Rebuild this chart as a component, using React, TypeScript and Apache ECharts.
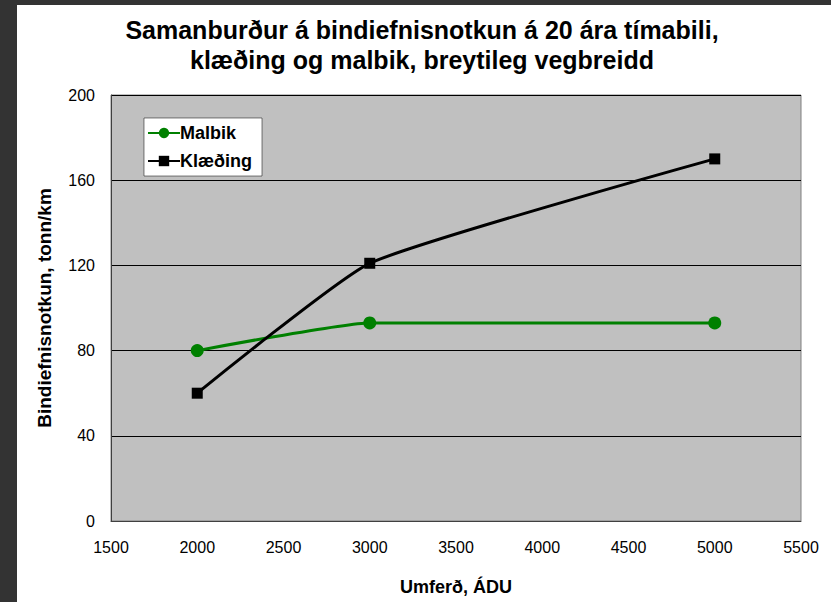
import React, { useEffect, useRef } from "react";
import * as echarts from "echarts";

const titleLines = ["Samanburður á bindiefnisnotkun á 20 ára tímabili,", "klæðing og malbik, breytileg vegbreidd"];
const xAxisName = "Umferð, ÁDU";
const yAxisName = "Bindiefnisnotkun, tonn/km";
const umferd = [2000, 3000, 5000];
const malbik = [80, 93, 93];
const klaeding = [60, 121, 170];
const seriesNames = ["Malbik", "Klæðing"];

export default function App() {
  const ref = useRef<HTMLDivElement>(null);
  useEffect(() => {
    if (!ref.current) return;
    const chart = echarts.init(ref.current, null, { renderer: "svg" });
    const font = "Arial, 'Liberation Sans', sans-serif";
    chart.setOption({
      animation: false,
      backgroundColor: "#ffffff",
      textStyle: { fontFamily: font },
      title: {
        text: titleLines.join("\n"),
        left: 417,
        textAlign: "center",
        top: 10,
        textStyle: { fontSize: 25, fontWeight: "bold", color: "#000", lineHeight: 30, fontFamily: font },
      },
      legend: {
        left: 144,
        top: 118,
        orient: "vertical",
        itemGap: 10,
        itemWidth: 32,
        itemHeight: 13,
        backgroundColor: "#ffffff",
        borderColor: "#000",
        borderWidth: 0.5,
        padding: [6, 10, 6, 3],
        textStyle: { fontSize: 18, fontWeight: "bold", color: "#000", fontFamily: font, padding: [0, 0, 0, -5] },
        data: seriesNames,
      },
      grid: { left: 111, right: 30, top: 95, bottom: 81, containLabel: false, show: true, backgroundColor: "#c0c0c0", borderColor: "#808080", borderWidth: 1 },
      xAxis: {
        type: "value",
        min: 1500,
        max: 5500,
        interval: 500,
        name: xAxisName,
        nameLocation: "middle",
        nameGap: 57,
        nameTextStyle: { fontSize: 18, fontWeight: "bold", color: "#000", fontFamily: font },
        axisLine: { show: true, lineStyle: { color: "#404040", width: 1 } },
        axisTick: { show: false },
        axisLabel: { fontSize: 16, color: "#000", margin: 18, fontFamily: font, formatter: (v: number) => String(v) },
        splitLine: { show: false },
      },
      yAxis: {
        type: "value",
        min: 0,
        max: 200,
        interval: 40,
        name: yAxisName,
        nameLocation: "middle",
        nameGap: 57,
        nameTextStyle: { fontSize: 19, fontWeight: "bold", color: "#000", fontFamily: font },
        axisLine: { show: true, lineStyle: { color: "#404040", width: 1 } },
        axisTick: { show: false },
        axisLabel: { fontSize: 16, color: "#000", margin: 16, fontFamily: font },
        splitLine: { show: true, lineStyle: { color: "#000", width: 1 } },
      },
      series: [
        {
          name: seriesNames[0],
          type: "line",
          data: umferd.map((x, i) => [x, malbik[i]]),
          smooth: 0.15,
          smoothMonotone: "x",
          symbol: "circle",
          symbolSize: 13,
          lineStyle: { color: "#008000", width: 3 },
          itemStyle: { color: "#008000" },
        },
        {
          name: seriesNames[1],
          type: "line",
          data: umferd.map((x, i) => [x, klaeding[i]]),
          smooth: 0.15,
          symbol: "rect",
          symbolSize: 11,
          lineStyle: { color: "#000", width: 3 },
          itemStyle: { color: "#000" },
        },
      ],
      graphic: [
        { type: "rect", shape: { x: 0, y: 0, width: 831, height: 5 }, style: { fill: "#333333" }, silent: true },
        { type: "rect", shape: { x: 0, y: 0, width: 17, height: 602 }, style: { fill: "#333333" }, silent: true },
      ],
    });
    return () => chart.dispose();
  }, []);
  return <div ref={ref} style={{ position: "fixed", left: 0, top: 0, width: 831, height: 602 }} />;
}
